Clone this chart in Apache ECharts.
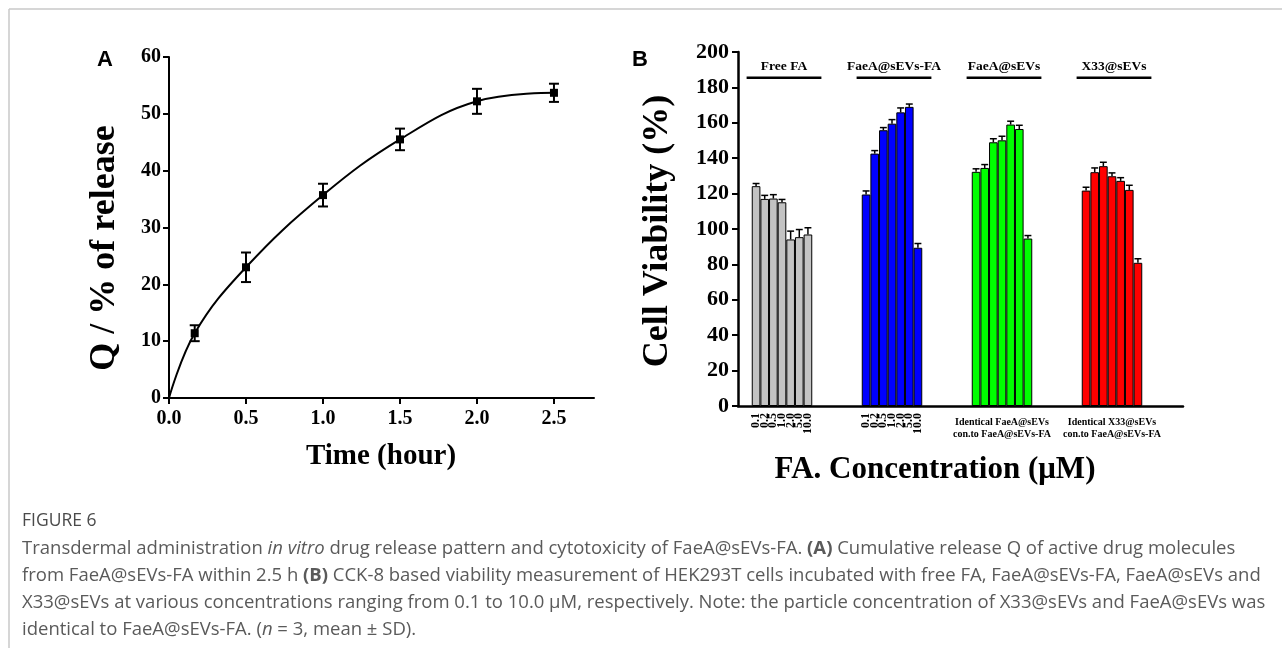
<!DOCTYPE html>
<html>
<head>
<meta charset="utf-8">
<script src="https://cdn.jsdelivr.net/npm/echarts@6.0.0/dist/echarts.min.js"></script>
<style>
  html, body { margin: 0; padding: 0; background: #fff; }
  #main { width: 1282px; height: 648px; }
</style>
</head>
<body>
<div id="main"></div>
<script>
// ---- panel A : cumulative release ----
var timeH = [0, 0.167, 0.5, 1.0, 1.5, 2.0, 2.5];
var release = [0, 11.4, 23.0, 35.7, 45.5, 52.2, 53.7];
var releaseSd = [0, 1.4, 2.6, 2.0, 1.9, 2.2, 1.6];
var timeTicks = [0, 0.5, 1.0, 1.5, 2.0, 2.5];

// ---- panel B : cell viability ----
var groupNames = ['Free FA', 'FaeA@sEVs-FA', 'FaeA@sEVs', 'X33@sEVs'];
var groupSubLabels = ['', '', 'Identical FaeA@sEVs\ncon.to FaeA@sEVs-FA', 'Identical X33@sEVs\ncon.to FaeA@sEVs-FA'];
var concLabels = ['0.1', '0.2', '0.5', '1.0', '2.0', '5.0', '10.0'];
var freeFA = [124.2, 117.0, 117.2, 115.1, 94.1, 95.4, 96.9];
var freeFASd = [1.5, 2.0, 2.2, 1.6, 4.7, 4.3, 3.8];
var faeaFA = [119.5, 142.6, 155.8, 159.5, 165.9, 169.0, 89.4];
var faeaFASd = [2.0, 1.7, 1.5, 2.3, 2.5, 1.6, 2.4];
var faeaEV = [132.3, 134.5, 149.0, 150.1, 159.0, 156.5, 94.6];
var faeaEVSd = [1.7, 1.9, 2.0, 2.3, 1.9, 2.1, 1.7];
var x33EV = [121.7, 132.1, 135.5, 129.8, 127.2, 122.1, 80.9];
var x33EVSd = [1.9, 2.4, 2.2, 1.9, 1.8, 2.6, 2.3];

var groupVals = [freeFA, faeaFA, faeaEV, x33EV];
var groupSds = [freeFASd, faeaFASd, faeaEVSd, x33EVSd];
var groupColors = ['#c3c3c3', '#0000ff', '#00ff00', '#ff0000'];
var headerLevel = 185.5;   // y value where the group header rule sits
var groupFill = 0.55;      // share of each category band taken by the 7 bars

var serif = "'Liberation Serif', 'Times New Roman', serif";
var sans = "'Liberation Sans', Arial, sans-serif";
var capFont = 'Open Sans';
var capSize = 18.5;
var capColor = '#5a5a5a';

function barWidth(api) {
  return api.size([1, 0])[0] * groupFill / concLabels.length;
}

var barSeries = concLabels.map(function (c, k) {
  return {
    type: 'bar',
    name: c,
    xAxisIndex: 2,
    yAxisIndex: 2,
    barGap: '0%',
    barCategoryGap: ((1 - groupFill) * 100) + '%',
    data: groupVals.map(function (g) { return g[k]; }),
    itemStyle: {
      color: function (p) { return groupColors[p.dataIndex]; },
      borderColor: '#000',
      borderWidth: 1
    },
    silent: true
  };
});

var errB = [];
var concB = [];
groupVals.forEach(function (g, gi) {
  g.forEach(function (v, k) {
    errB.push([gi, k, v, groupSds[gi][k]]);
    if (gi < 2) concB.push([gi, k, 0]);
  });
});

function capStyle(extra) {
  var s = { fontFamily: capFont, fontSize: capSize, fill: capColor };
  for (var key in extra) s[key] = extra[key];
  return s;
}

var option = {
  animation: false,
  backgroundColor: '#fff',
  grid: [
    { left: 169, top: 57, width: 425, height: 341 },
    { left: 738, top: 52, width: 445, height: 354 },
    { left: 727, top: 52, width: 440, height: 354 }
  ],
  xAxis: [
    {
      type: 'value', gridIndex: 0, min: 0, max: 2.76,
      splitLine: { show: false },
      axisLine: { lineStyle: { color: '#000', width: 2 } },
      axisTick: { customValues: timeTicks, length: 6, lineStyle: { color: '#000', width: 2 } },
      axisLabel: {
        customValues: timeTicks, margin: 11, color: '#000',
        fontFamily: serif, fontWeight: 'bold', fontSize: 20,
        formatter: function (v) { return v.toFixed(1); }
      }
    },
    {
      type: 'value', gridIndex: 1, min: 0, max: 1,
      splitLine: { show: false },
      axisLine: { lineStyle: { color: '#000', width: 2.5 } },
      axisTick: { show: false },
      axisLabel: { show: false }
    },
    {
      type: 'category', gridIndex: 2, data: groupSubLabels,
      axisLine: { show: false },
      axisTick: { show: false },
      axisLabel: {
        interval: 0, margin: 10, color: '#000', align: 'center',
        fontFamily: serif, fontWeight: 'bold', fontSize: 10, lineHeight: 12
      }
    }
  ],
  yAxis: [
    {
      type: 'value', gridIndex: 0, min: 0, max: 60, interval: 10,
      splitLine: { show: false },
      axisLine: { show: true, lineStyle: { color: '#000', width: 2 } },
      axisTick: { show: true, length: 6, lineStyle: { color: '#000', width: 2 } },
      axisLabel: { margin: 8, color: '#000', fontFamily: serif, fontWeight: 'bold', fontSize: 20 }
    },
    {
      type: 'value', gridIndex: 1, min: 0, max: 200, interval: 20,
      splitLine: { show: false },
      axisLine: { show: true, lineStyle: { color: '#000', width: 2.5 } },
      axisTick: { show: true, length: 6, lineStyle: { color: '#000', width: 2 } },
      axisLabel: { margin: 9, color: '#000', fontFamily: serif, fontWeight: 'bold', fontSize: 22 }
    },
    {
      type: 'value', gridIndex: 2, min: 0, max: 200, show: false
    }
  ],
  series: [
    {
      type: 'line',
      xAxisIndex: 0, yAxisIndex: 0,
      data: timeH.map(function (t, i) {
        var d = { value: [t, release[i]] };
        if (i === 0) d.symbol = 'none';
        return d;
      }),
      smooth: 0.4,
      symbol: 'rect',
      symbolSize: 8,
      itemStyle: { color: '#000' },
      lineStyle: { color: '#000', width: 2 },
      silent: true,
      z: 3
    },
    {
      type: 'custom',
      xAxisIndex: 0, yAxisIndex: 0,
      data: timeH.map(function (t, i) { return [t, release[i], releaseSd[i]]; }),
      encode: { x: 0, y: 1 },
      renderItem: function (params, api) {
        var s = api.value(2);
        if (!s) return null;
        var lo = api.coord([api.value(0), api.value(1) - s]);
        var hi = api.coord([api.value(0), api.value(1) + s]);
        var st = { stroke: '#000', lineWidth: 2 };
        return {
          type: 'group',
          children: [
            { type: 'line', shape: { x1: lo[0], y1: lo[1], x2: hi[0], y2: hi[1] }, style: st },
            { type: 'line', shape: { x1: lo[0] - 5, y1: lo[1], x2: lo[0] + 5, y2: lo[1] }, style: st },
            { type: 'line', shape: { x1: hi[0] - 5, y1: hi[1], x2: hi[0] + 5, y2: hi[1] }, style: st }
          ]
        };
      },
      silent: true,
      z: 4
    }
  ].concat(barSeries).concat([
    {
      // upper error bars on the viability bars
      type: 'custom',
      xAxisIndex: 2, yAxisIndex: 2,
      data: errB,
      encode: { x: 0, y: 2 },
      renderItem: function (params, api) {
        var g = api.value(0), k = api.value(1), m = api.value(2), s = api.value(3);
        var bw = barWidth(api);
        var base = api.coord([g, m]);
        var top = api.coord([g, m + s]);
        var x = base[0] + (k - (concLabels.length - 1) / 2) * bw;
        var st = { stroke: '#000', lineWidth: 1.5 };
        return {
          type: 'group',
          children: [
            { type: 'line', shape: { x1: x, y1: base[1], x2: x, y2: top[1] }, style: st },
            { type: 'line', shape: { x1: x - bw * 0.4, y1: top[1], x2: x + bw * 0.4, y2: top[1] }, style: st }
          ]
        };
      },
      silent: true,
      z: 5
    },
    {
      // rotated concentration labels under Free FA / FaeA@sEVs-FA
      type: 'custom',
      xAxisIndex: 2, yAxisIndex: 2,
      data: concB,
      encode: { x: 0, y: 2 },
      clip: false,
      renderItem: function (params, api) {
        var g = api.value(0), k = api.value(1);
        var bw = barWidth(api);
        var base = api.coord([g, 0]);
        var x = base[0] + (k - (concLabels.length - 1) / 2) * bw;
        return {
          type: 'text',
          x: x, y: base[1] + 7,
          rotation: Math.PI / 2,
          style: {
            text: concLabels[k], fill: '#000',
            font: 'bold 12px ' + serif,
            align: 'right', verticalAlign: 'middle'
          }
        };
      },
      silent: true
    },
    {
      // group headers with rule
      type: 'custom',
      xAxisIndex: 2, yAxisIndex: 2,
      data: groupNames.map(function (n, i) { return [i, headerLevel]; }),
      encode: { x: 0, y: 1 },
      clip: false,
      renderItem: function (params, api) {
        var c = api.coord([api.value(0), api.value(1)]);
        var half = api.size([1, 0])[0] * 0.34;
        return {
          type: 'group',
          children: [
            { type: 'line', shape: { x1: c[0] - half + 2, y1: c[1], x2: c[0] + half + 2, y2: c[1] },
              style: { stroke: '#000', lineWidth: 2.5 } },
            { type: 'text', x: c[0] + 2, y: c[1] - 11,
              style: { text: groupNames[params.dataIndex], fill: '#000',
                       font: 'bold 13.5px ' + serif, align: 'center', verticalAlign: 'middle' } }
          ]
        };
      },
      silent: true
    }
  ]),
  graphic: [
    { type: 'line', shape: { x1: 9, y1: 9, x2: 1282, y2: 9 }, style: { stroke: '#c8c8c8', lineWidth: 1.5 }, silent: true },
    { type: 'line', shape: { x1: 9, y1: 9, x2: 9, y2: 648 }, style: { stroke: '#c8c8c8', lineWidth: 1.5 }, silent: true },
    { type: 'text', x: 97, y: 60, style: { text: 'A', font: 'bold 22px ' + sans, fill: '#000', verticalAlign: 'middle' } },
    { type: 'text', x: 632, y: 60, style: { text: 'B', font: 'bold 22px ' + sans, fill: '#000', verticalAlign: 'middle' } },
    { type: 'text', x: 105, y: 248, rotation: Math.PI / 2,
      style: { text: 'Q / % of release', font: 'bold 36px ' + serif, fill: '#000', align: 'center', verticalAlign: 'middle' } },
    { type: 'text', x: 381, y: 457,
      style: { text: 'Time (hour)', font: 'bold 29px ' + serif, fill: '#000', align: 'center', verticalAlign: 'middle' } },
    { type: 'text', x: 658, y: 231, rotation: Math.PI / 2,
      style: { text: 'Cell Viability (%)', font: 'bold 36px ' + serif, fill: '#000', align: 'center', verticalAlign: 'middle' } },
    { type: 'text', x: 935, y: 470,
      style: { text: 'FA. Concentration (μM)', font: 'bold 31px ' + serif, fill: '#000', align: 'center', verticalAlign: 'middle' } },
    { type: 'text', x: 22, y: 521,
      style: capStyle({ text: 'FIGURE 6', fontSize: 17.5, fill: '#4a4a4a', verticalAlign: 'middle' }) },
    { type: 'text', x: 22, y: 549,
      style: capStyle({
        text: 'Transdermal administration {i|in vitro} drug release pattern and cytotoxicity of FaeA@sEVs-FA. {b|(A)} Cumulative release Q of active drug molecules',
        verticalAlign: 'middle',
        rich: { i: capStyle({ fontStyle: 'italic' }), b: capStyle({ fontWeight: 'bold' }) }
      }) },
    { type: 'text', x: 22, y: 576,
      style: capStyle({
        text: 'from FaeA@sEVs-FA within 2.5 h {b|(B)} CCK-8 based viability measurement of HEK293T cells incubated with free FA, FaeA@sEVs-FA, FaeA@sEVs and',
        verticalAlign: 'middle',
        rich: { b: capStyle({ fontWeight: 'bold' }) }
      }) },
    { type: 'text', x: 22, y: 603,
      style: capStyle({
        text: 'X33@sEVs at various concentrations ranging from 0.1 to 10.0 μM, respectively. Note: the particle concentration of X33@sEVs and FaeA@sEVs was',
        verticalAlign: 'middle'
      }) },
    { type: 'text', x: 22, y: 630,
      style: capStyle({
        text: 'identical to FaeA@sEVs-FA. ({i|n} = 3, mean ± SD).',
        verticalAlign: 'middle',
        rich: { i: capStyle({ fontStyle: 'italic' }) }
      }) }
  ]
};

var myChart = echarts.init(document.getElementById('main'));
myChart.setOption(option);
window.addEventListener('resize', function () {
  myChart.resize();
}, false);
</script>
</body>
</html>
